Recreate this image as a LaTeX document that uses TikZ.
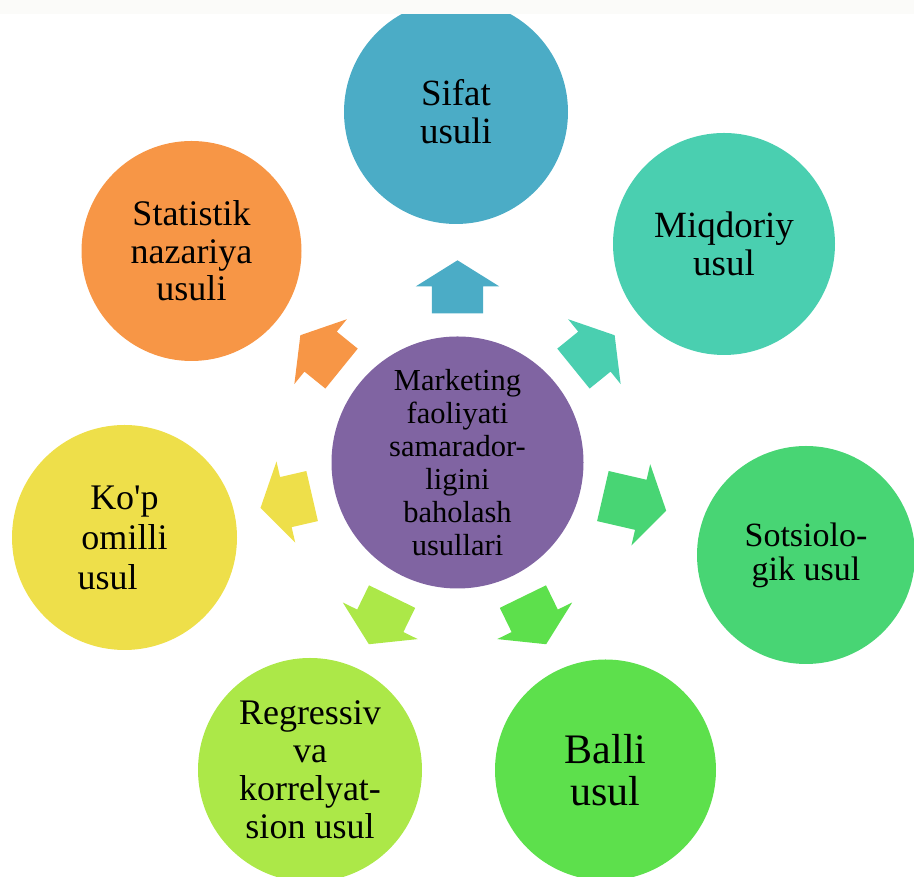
\documentclass[tikz,border=0pt]{standalone}
\usepackage{fontspec}
\setmainfont{Liberation Serif}
\usetikzlibrary{shapes.arrows,calc}

\definecolor{markaz}{RGB}{128,100,162}
\definecolor{sifat}{RGB}{75,172,198}
\definecolor{miqdor}{RGB}{74,207,176}
\definecolor{sotsio}{RGB}{72,213,116}
\definecolor{balli}{RGB}{93,224,76}
\definecolor{regres}{RGB}{172,232,72}
\definecolor{kopom}{RGB}{238,223,74}
\definecolor{statis}{RGB}{247,150,70}
\definecolor{tepa}{RGB}{251,251,249}

\begin{document}
\begin{tikzpicture}[x=1pt,y=1pt,
        usul/.style={circle, inner sep=0pt, align=center, text=black},
        blockarrow/.style={single arrow, draw=none, inner xsep=0pt, inner ysep=25.5pt,
            single arrow head extend=16pt, single arrow tip angle=116,
            minimum height=53pt, anchor=tail}]
    \useasboundingbox (0,0) rectangle (914,877);
    \node[usul, fill=markaz, minimum size=252pt, font=\fontsize{30.5}{33}\selectfont] (m) at (457.5,414.5) {Marketing\\faoliyati\\samarador-\\ligini\\baholash\\usullari};
    \node[usul, fill=sifat, minimum size=224pt, font=\fontsize{37}{38}\selectfont] (o1) at (456,765) {Sifat\\usuli};
    \node[usul, fill=miqdor, minimum size=222pt, font=\fontsize{37}{38}\selectfont] (o2) at (724,633) {Miqdoriy\\usul};
    \node[usul, fill=sotsio, minimum size=218pt, font=\fontsize{34}{34}\selectfont] (o3) at (806,322) {Sotsiolo-\\gik usul};
    \node[usul, fill=balli, minimum size=221pt, font=\fontsize{42}{42}\selectfont] (o4) at (605.5,107) {Balli\\usul};
    \node[usul, fill=regres, minimum size=224pt, font=\fontsize{36}{38}\selectfont] (o5) at (310,107) {Regressiv\\va\\korrelyat-\\sion usul};
    \node[usul, fill=kopom, minimum size=225pt, font=\fontsize{36}{40}\selectfont] (o6) at (124.5,339.5) {Ko\textquotesingle p\\omilli\\usul\phantom{ab}};
    \node[usul, fill=statis, minimum size=220pt, font=\fontsize{36}{37.5}\selectfont] (o7) at (191.5,626) {Statistik\\nazariya\\usuli};
    \node[blockarrow, fill=sifat, rotate=90] (a1) at ($(m)+(90:149pt)$) {};
    \node[blockarrow, fill=miqdor, rotate=39] (a2) at ($(m)+(39:149pt)$) {};
    \node[blockarrow, fill=sotsio, rotate=-13, minimum height=65pt] (a3) at ($(m)+(-13:149pt)$) {};
    \node[blockarrow, fill=balli, rotate=-64] (a4) at ($(m)+(-64:149pt)$) {};
    \node[blockarrow, fill=regres, rotate=-116] (a5) at ($(m)+(-116:149pt)$) {};
    \node[blockarrow, fill=kopom, rotate=-167] (a6) at ($(m)+(-167:149pt)$) {};
    \node[blockarrow, fill=statis, rotate=141] (a7) at ($(m)+(141:149pt)$) {};
    \fill[tepa] (0,863) rectangle (914,877);
\end{tikzpicture}
\end{document}
